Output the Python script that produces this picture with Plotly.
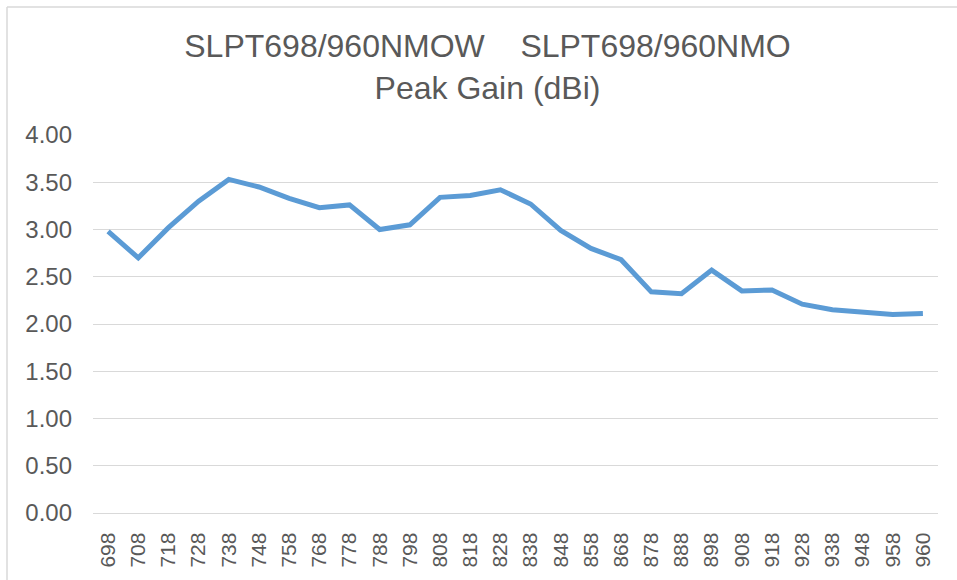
import plotly.graph_objects as go

freqs = ["698", "708", "718", "728", "738", "748", "758", "768", "778", "788",
         "798", "808", "818", "828", "838", "848", "858", "868", "878", "888",
         "898", "908", "918", "928", "938", "948", "958", "960"]
peak_gain = [2.98, 2.70, 3.02, 3.30, 3.53, 3.45, 3.33, 3.23, 3.26, 3.00,
             3.05, 3.34, 3.36, 3.42, 3.27, 2.99, 2.80, 2.68, 2.34, 2.32,
             2.57, 2.35, 2.36, 2.21, 2.15, 2.13, 2.10, 2.11]
title_line1 = "SLPT698/960NMOW\u00a0\u00a0\u00a0\u00a0SLPT698/960NMO"
title_line2 = "Peak Gain (dBi)"

FONT = "Liberation Sans, Arial, sans-serif"
GREY = "#595959"
GRID = "#d9d9d9"

fig = go.Figure()
fig.add_trace(go.Scatter(
    x=freqs, y=peak_gain, mode="lines",
    line=dict(color="#5b9bd5", width=5),
    hoverinfo="x+y", showlegend=False,
))

fig.update_layout(
    width=957, height=580,
    paper_bgcolor="white", plot_bgcolor="white",
    margin=dict(l=93, r=19, t=135, b=67, autoexpand=False),
    font=dict(family=FONT, color=GREY),
    title=dict(
        text=title_line1 + "<br>" + title_line2,
        x=487.5 / 957, xref="container", xanchor="center",
        y=1 - 57 / 580, yref="container", yanchor="middle",
        font=dict(family=FONT, size=32, color=GREY),
    ),
    xaxis=dict(
        type="category", tickangle=-90,
        range=[-0.5, len(freqs) - 0.5],
        showgrid=False, showline=True, linecolor=GRID, linewidth=1.3,
        ticks="", tickfont=dict(family=FONT, size=21, color=GREY),
        ticklabelstandoff=10, fixedrange=True, automargin=False,
    ),
    yaxis=dict(
        range=[0, 4], dtick=0.5, tickformat=".2f",
        showgrid=True, gridcolor=GRID, gridwidth=1.3,
        zeroline=True, zerolinecolor=GRID, zerolinewidth=1.3,
        showline=False, ticks="",
        tickfont=dict(family=FONT, size=24, color=GREY),
        ticklabelstandoff=20, fixedrange=True, automargin=False,
    ),
    shapes=[
        dict(type="line", xref="paper", yref="paper",
             x0=(7 - 93) / 845, x1=1.2, y0=(513 - 7) / 378, y1=(513 - 7) / 378,
             line=dict(color=GRID, width=1.5)),
        dict(type="line", xref="paper", yref="paper",
             x0=(7 - 93) / 845, x1=(7 - 93) / 845, y0=-0.3, y1=(513 - 7) / 378,
             line=dict(color=GRID, width=1.5)),
    ],
)

fig.write_html("out.html", config={"displayModeBar": False},
               post_script="document.body.style.margin='0';")
